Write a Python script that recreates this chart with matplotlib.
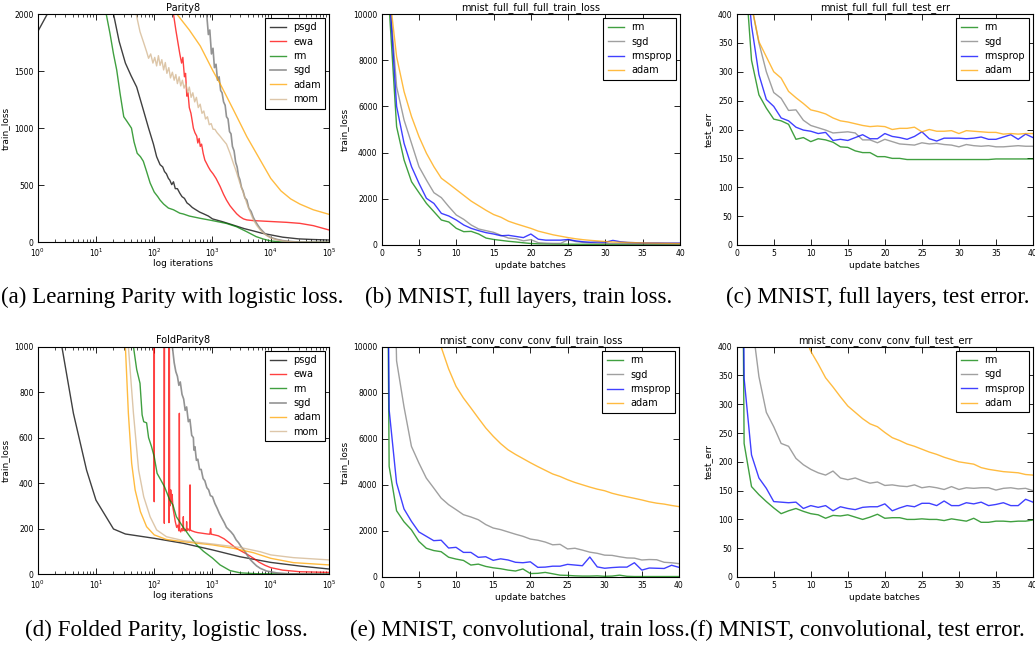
import numpy as np
import matplotlib
matplotlib.use('Agg')
import matplotlib.pyplot as plt

W, H = 1035, 645

# ---------------- (a) Parity8 : iteration -> train_loss ----------------
par_psgd_x = [1, 1.5, 2, 3, 5, 8, 12, 20, 25, 32, 40, 50, 65, 80, 97, 110, 126, 140, 150, 162,
              175, 185, 200, 214, 230, 250, 275, 300, 330, 365, 400, 450, 500, 600, 700, 850,
              1000, 1500, 2300, 3500, 5000, 7000, 10000, 16000, 30000, 50000, 100000]
par_psgd_y = [1845, 2010, 2200, 2500, 2700, 2600, 2350, 2000, 1760, 1570, 1460, 1360, 1160, 1000,
              860, 750, 680, 660, 620, 600, 560, 545, 505, 530, 470, 470, 430, 400, 385, 345, 330,
              305, 290, 265, 250, 230, 205, 180, 150, 120, 100, 80, 65, 45, 30, 25, 20]

par_ewa_x = [150, 214, 235, 257, 275, 295, 310, 330, 345, 363, 380, 400, 427, 450, 470, 500, 537,
             560, 590, 617, 650, 692, 740, 794, 850, 920, 1023, 1150, 1350, 1550, 1740, 2000, 2290,
             2600, 2950, 3400, 3890, 5000, 6600, 11000, 18600, 31600, 53700, 100000]
par_ewa_y = [2600, 2000, 1860, 1740, 1650, 1570, 1620, 1450, 1480, 1280, 1310, 1180, 1130, 1060,
             1000, 960, 930, 870, 910, 840, 860, 780, 720, 690, 660, 630, 600, 560, 490, 420, 370,
             320, 283, 250, 225, 205, 196, 190, 187, 181, 175, 166, 146, 108]

par_rm_x = [1, 5, 10, 15, 17.4, 20, 22.7, 26, 30, 34, 40.7, 45, 51, 58, 65, 74, 85, 100, 115, 126,
            145, 175, 214, 275, 316, 400, 617, 1000, 1740, 2570, 3800, 5600, 7500, 10000, 15000,
            20000, 100000]
par_rm_y = [5000, 3500, 2600, 2000, 1830, 1650, 1510, 1300, 1100, 1060, 1000, 880, 780, 750, 710,
            620, 520, 440, 400, 370, 335, 300, 285, 255, 248, 230, 210, 190, 165, 137, 95, 50, 28,
            12, 3, 0, 0]

par_sgd_x = [600, 700, 795, 850, 900, 960, 1020, 1080, 1150, 1220, 1300, 1380, 1460, 1550, 1650,
             1740, 1850, 1960, 2080, 2200, 2350, 2500, 2650, 2800, 2950, 3150, 3350, 3600, 3890,
             4200, 4600, 5000, 5500, 6000, 6600, 7500, 8500, 10000, 12600, 16000, 21000, 30000,
             100000]
par_sgd_y = [2500, 2250, 2000, 1820, 1860, 1650, 1700, 1530, 1560, 1420, 1450, 1330, 1310, 1230,
             1200, 1100, 1080, 970, 950, 840, 800, 700, 660, 580, 550, 480, 450, 390, 370, 300, 270,
             220, 180, 150, 120, 90, 62, 42, 26, 15, 8, 2, 0]

par_adam_x = [100, 244, 400, 617, 1023, 1350, 2290, 3890, 6610, 10000, 15000, 22000, 31600, 53700,
              100000]
par_adam_y = [2500, 2000, 1860, 1720, 1500, 1390, 1160, 925, 720, 560, 450, 380, 335, 285, 245]

par_mom_x = [30, 49, 57, 65, 74, 80, 87, 95, 102, 110, 118, 126, 135, 145, 155, 165, 178, 190, 205,
             220, 235, 250, 268, 285, 305, 325, 350, 375, 400, 430, 460, 495, 530, 570, 615, 660,
             710, 760, 820, 880, 950, 1023, 1100, 1200, 1350, 1500, 1740, 2000, 2290, 2600, 2950,
             3400, 3890, 4400, 5000, 5700, 6600, 7500, 8500, 10000, 12600, 16000, 21000, 30000,
             100000]
par_mom_y = [2500, 2000, 1845, 1758, 1670, 1612, 1650, 1570, 1620, 1545, 1635, 1550, 1600, 1510,
             1575, 1480, 1530, 1440, 1490, 1420, 1470, 1390, 1450, 1370, 1420, 1350, 1390, 1310,
             1360, 1270, 1310, 1230, 1270, 1180, 1210, 1130, 1150, 1080, 1100, 1030, 1040, 990,
             990, 960, 930, 900, 860, 780, 690, 610, 520, 430, 340, 270, 200, 150, 108, 80, 60, 38,
             22, 12, 6, 1, 0]

# ---------------- (d) FoldParity8 ----------------
fold_psgd_x = [1, 2, 2.6, 4.1, 6.9, 10, 20, 32, 100, 316, 1000, 2950, 10000, 31600, 100000]
fold_psgd_y = [1600, 1150, 1000, 707, 457, 325, 198, 176, 157, 135, 106, 76, 51, 35, 22]

fold_ewa_x = [90, 99, 100, 101, 147, 149, 151, 176, 179, 181, 184, 188, 192, 197, 203, 210, 220,
              230, 243, 255, 265, 268, 270, 273, 285, 296, 305, 314, 316, 318, 330, 345, 358, 360,
              362, 375, 390, 405, 410, 412, 414, 440, 500, 560, 640, 720, 820, 900, 930, 950, 1000,
              1260, 1580, 2000, 2500, 3160, 3980, 5000, 6300, 8000, 10000, 16000, 31600, 100000]
fold_ewa_y = [1500, 1500, 318, 1500, 1500, 223, 1500, 1500, 226, 1500, 380, 300, 370, 320, 350,
              290, 260, 230, 205, 215, 190, 195, 707, 195, 185, 200, 190, 200, 252, 195, 190, 195,
              200, 230, 190, 200, 195, 190, 200, 392, 195, 190, 185, 182, 180, 178, 176, 175, 200,
              175, 174, 168, 155, 135, 115, 100, 86, 70, 52, 38, 28, 17, 10, 7]

fold_rm_x = [20, 44, 50, 57, 62, 66, 74, 80, 90, 100, 112, 125, 150, 185, 210, 240, 310, 412, 536,
             700, 1000, 1350, 2000, 3000, 6000, 100000]
fold_rm_y = [1600, 1000, 900, 839, 700, 670, 665, 600, 560, 516, 443, 421, 384, 325, 303, 252, 208,
             164, 128, 100, 70, 40, 15, 5, 1, 0]

fold_sgd_x = [150, 205, 220, 235, 250, 265, 280, 300, 320, 340, 360, 385, 410, 440, 470, 480, 500,
              530, 560, 600, 640, 690, 740, 800, 860, 920, 1000, 1100, 1200, 1320, 1450, 1600,
              1740, 1900, 2080, 2290, 2550, 2800, 3100, 3400, 3700, 4000, 4500, 5000, 5700, 6600,
              8500, 12600, 20000, 100000]
fold_sgd_y = [1300, 1000, 930, 890, 870, 830, 845, 790, 770, 720, 735, 670, 680, 610, 600, 545, 560,
              500, 505, 460, 460, 420, 410, 380, 370, 345, 340, 310, 290, 265, 245, 225, 205, 195,
              185, 172, 150, 138, 120, 108, 95, 80, 62, 50, 36, 25, 13, 5, 1, 0]

fold_adam_x = [10, 20, 32, 36, 41, 47, 58, 74, 100, 162, 316, 1000, 2290, 5000, 10000, 24500, 100000]
fold_adam_y = [4000, 2000, 1000, 707, 487, 370, 274, 208, 172, 152, 142, 128, 113, 94, 69, 50, 40]

fold_mom_x = [10, 20, 36, 44, 54, 66, 85, 110, 162, 316, 1000, 2950, 6600, 10000, 24500, 100000]
fold_mom_y = [4000, 2200, 1000, 707, 457, 340, 252, 194, 164, 147, 132, 117, 98, 84, 72, 62]

# ---------------- MNIST runs : update batch 0..40 ----------------
batches = list(range(41))

full_train_rm = [50000, 10300, 5120, 3680, 2740, 2265, 1800, 1443, 1082, 996, 722, 577, 590, 476,
                 300, 240, 200, 160, 130, 95, 65, 50, 45, 40, 38, 35, 33, 30, 28, 27, 25, 24, 23,
                 22, 21, 20, 20, 19, 19, 18, 18]
full_train_sgd = [50000, 11000, 6850, 5410, 4400, 3390, 2810, 2265, 2050, 1660, 1300, 1110, 866,
                  693, 620, 548, 420, 300, 270, 180, 230, 100, 80, 70, 70, 230, 150, 110, 90, 80,
                  70, 65, 60, 55, 50, 50, 45, 45, 40, 40, 40]
full_train_rmsprop = [50000, 11000, 6000, 4400, 3390, 2670, 2020, 1800, 1370, 1255, 1082, 866, 720,
                      620, 534, 476, 400, 420, 370, 320, 476, 250, 210, 210, 210, 240, 180, 140,
                      120, 130, 120, 200, 140, 110, 100, 90, 90, 90, 85, 85, 85]
full_train_adam = [50000, 11000, 8150, 6640, 5560, 4690, 3970, 3390, 2890, 2650, 2400, 2150, 1900,
                   1700, 1500, 1320, 1200, 1030, 920, 820, 720, 600, 520, 440, 380, 320, 270, 230,
                   200, 175, 150, 130, 120, 110, 100, 90, 85, 80, 75, 70, 65]

full_test_rm = [2000, 500, 320, 260, 237, 218, 215, 209, 183, 186, 179, 184, 182, 178, 170, 169,
                163, 160, 160, 153, 153, 150, 150, 148, 148, 148, 148, 148, 148, 148, 148, 148,
                148, 148, 148, 149, 149, 149, 149, 149, 149]
full_test_sgd = [2000, 600, 415, 350, 300, 264, 254, 233, 234, 216, 207, 203, 199, 194, 195, 196,
                 194, 182, 182, 177, 183, 179, 175, 174, 173, 177, 175, 176, 174, 173, 170, 174,
                 172, 171, 172, 170, 170, 171, 172, 171, 171]
full_test_rmsprop = [2000, 520, 380, 295, 252, 240, 220, 215, 204, 199, 197, 193, 195, 181, 183,
                     181, 186, 191, 184, 184, 193, 188, 186, 183, 188, 196, 184, 180, 185, 185,
                     185, 184, 185, 187, 183, 183, 187, 191, 183, 192, 186]
full_test_adam = [2000, 600, 415, 352, 326, 300, 289, 266, 255, 245, 234, 231, 227, 220, 215, 213,
                  210, 207, 205, 206, 205, 200, 202, 202, 204, 196, 200, 197, 197, 198, 193, 198,
                  197, 196, 195, 195, 192, 193, 192, 193, 193]

conv_train_rm = [50000, 4810, 2880, 2400, 2050, 1550, 1250, 1150, 1100, 860, 780, 720, 520, 560,
                 460, 400, 360, 300, 260, 350, 150, 160, 200, 140, 80, 70, 50, 40, 40, 50, 30, 40,
                 80, 30, 20, 20, 20, 20, 20, 20, 20]
conv_train_sgd = [50000, 25000, 9400, 7400, 5680, 4960, 4300, 3870, 3430, 3145, 2930, 2710, 2610,
                  2490, 2280, 2130, 2060, 1960, 1860, 1770, 1650, 1600, 1520, 1400, 1420, 1220,
                  1250, 1170, 1080, 1030, 950, 940, 880, 830, 820, 740, 760, 750, 640, 620, 580]
conv_train_rmsprop = [50000, 7275, 4090, 2960, 2420, 1960, 1770, 1580, 1600, 1260, 1290, 1070,
                      1070, 855, 880, 725, 790, 740, 640, 620, 660, 420, 430, 470, 470, 550, 520,
                      490, 870, 440, 380, 410, 430, 430, 620, 300, 390, 380, 370, 510, 420]
conv_train_adam = [60000, 40000, 25000, 18000, 15000, 13000, 12000, 11100, 10000, 9050, 8290, 7780,
                   7350, 6910, 6480, 6120, 5800, 5530, 5330, 5150, 4970, 4800, 4640, 4480, 4370,
                   4230, 4110, 4010, 3910, 3820, 3750, 3640, 3560, 3490, 3420, 3350, 3270, 3210,
                   3170, 3110, 3060]

conv_test_rm = [2000, 232, 157, 143, 131, 120, 110, 115, 119, 114, 110, 108, 102, 107, 106, 108,
                104, 100, 104, 109, 102, 103, 103, 100, 100, 101, 100, 100, 98, 101, 99, 97, 102,
                95, 95, 97, 97, 96, 97, 97, 99]
conv_test_sgd = [2000, 700, 450, 348, 286, 261, 232, 227, 206, 195, 187, 181, 177, 184, 172, 169,
                 172, 167, 163, 165, 159, 160, 158, 157, 160, 155, 157, 155, 152, 157, 152, 155,
                 154, 155, 155, 151, 154, 155, 153, 154, 150]
conv_test_rmsprop = [2000, 345, 212, 172, 154, 131, 130, 129, 130, 119, 124, 121, 124, 115, 122,
                     119, 117, 121, 122, 122, 127, 115, 120, 124, 122, 128, 128, 124, 132, 124,
                     124, 129, 127, 130, 124, 126, 129, 124, 124, 135, 130]
conv_test_adam = [2000, 2000, 1400, 1050, 850, 700, 600, 520, 465, 425, 392, 370, 346, 330, 313,
                  297, 286, 275, 266, 261, 251, 242, 237, 231, 227, 222, 217, 213, 208, 204, 200,
                  198, 196, 190, 187, 185, 183, 182, 181, 178, 177]

captions = ['(a) Learning Parity with logistic loss.', '(b) MNIST, full layers, train loss.',
            '(c) MNIST, full layers, test error.', '(d) Folded Parity, logistic loss.',
            '(e) MNIST, convolutional, train loss.', '(f) MNIST, convolutional, test error.']


def box(l, t, r, b):
    # pixel box -> figure fraction
    return [l / W, 1 - b / H, (r - l) / W, (b - t) / H]


def style(ax, title, xlabel, ylabel, xpad=2):
    ax.set_title(title, fontsize=7, pad=2.5)
    ax.set_xlabel(xlabel, fontsize=6.5, labelpad=xpad)
    ax.set_ylabel(ylabel, fontsize=6.5, labelpad=3)
    ax.tick_params(which='both', direction='in', top=True, right=True, labelsize=5.5, pad=3)
    ax.tick_params(which='major', length=4, width=0.6)
    ax.tick_params(which='minor', length=2, width=0.5)
    for s in ax.spines.values():
        s.set_linewidth(0.8)
    leg = ax.legend(loc='upper right', fontsize=7, handlelength=1.7, handletextpad=0.7,
                    borderpad=0.45, labelspacing=0.45, borderaxespad=0.4, fancybox=False)
    leg.get_frame().set_edgecolor('black')
    leg.get_frame().set_linewidth(0.8)
    leg.get_frame().set_alpha(1)


fig = plt.figure(figsize=(10.35, 6.45), dpi=100)
lw, al = 1.0, 0.75

# (a)
ax = fig.add_axes(box(37.7, 14, 329, 242.3))
ax.plot(par_psgd_x, par_psgd_y, color='k', lw=lw, alpha=al, label='psgd')
ax.plot(par_ewa_x, par_ewa_y, color='r', lw=lw, alpha=al, label='ewa')
ax.plot(par_rm_x, par_rm_y, color='g', lw=lw, alpha=al, label='rm')
ax.plot(par_sgd_x, par_sgd_y, color='gray', lw=1.2, alpha=0.85, label='sgd')
ax.plot(par_adam_x, par_adam_y, color='orange', lw=lw, alpha=al, label='adam')
ax.plot(par_mom_x, par_mom_y, color='tan', lw=lw, alpha=al, label='mom')
ax.set_xscale('log')
ax.set_xlim(1, 1e5)
ax.set_ylim(0, 2000)
ax.set_yticks(range(0, 2001, 500))
style(ax, 'Parity8', 'log iterations', 'train_loss', xpad=0)

# (d)
ax = fig.add_axes(box(37.7, 346.7, 329, 574))
ax.plot(fold_psgd_x, fold_psgd_y, color='k', lw=lw, alpha=al, label='psgd')
ax.plot(fold_ewa_x, fold_ewa_y, color='r', lw=lw, alpha=al, label='ewa')
ax.plot(fold_rm_x, fold_rm_y, color='g', lw=lw, alpha=al, label='rm')
ax.plot(fold_sgd_x, fold_sgd_y, color='gray', lw=1.2, alpha=0.85, label='sgd')
ax.plot(fold_adam_x, fold_adam_y, color='orange', lw=lw, alpha=al, label='adam')
ax.plot(fold_mom_x, fold_mom_y, color='tan', lw=lw, alpha=al, label='mom')
ax.set_xscale('log')
ax.set_xlim(1, 1e5)
ax.set_ylim(0, 1000)
ax.set_yticks(range(0, 1001, 200))
style(ax, 'FoldParity8', 'log iterations', 'train_loss', xpad=0)

mnist = [
    (box(381.7, 14, 680, 245), 'mnist_full_full_full_train_loss', 'train_loss', 10000, 2000,
     [full_train_rm, full_train_sgd, full_train_rmsprop, full_train_adam]),
    (box(736.7, 14, 1033, 245), 'mnist_full_full_full_test_err', 'test_err', 400, 50,
     [full_test_rm, full_test_sgd, full_test_rmsprop, full_test_adam]),
    (box(381.7, 347, 679, 577), 'mnist_conv_conv_conv_full_train_loss', 'train_loss', 10000, 2000,
     [conv_train_rm, conv_train_sgd, conv_train_rmsprop, conv_train_adam]),
    (box(736.7, 346.7, 1033, 577), 'mnist_conv_conv_conv_full_test_err', 'test_err', 400, 50,
     [conv_test_rm, conv_test_sgd, conv_test_rmsprop, conv_test_adam]),
]
names = ['rm', 'sgd', 'rmsprop', 'adam']
colors = ['g', 'gray', 'b', 'orange']

for pos, title, ylab, ymax, ystep, series in mnist:
    ax = fig.add_axes(pos)
    for vals, name, c in zip(series, names, colors):
        ax.plot(batches, vals, color=c, lw=lw, alpha=al, label=name)
    ax.set_xlim(0, 40)
    ax.set_ylim(0, ymax)
    ax.set_xticks(range(0, 41, 5))
    ax.set_yticks(range(0, ymax + 1, ystep))
    style(ax, title, 'update batches', ylab)

# captions
cap_font = dict(family='Liberation Serif', fontsize=16.6, va='center')
fig.text(343 / W, 1 - 297 / H, captions[0], ha='right', **cap_font)
fig.text(365 / W, 1 - 297 / H, captions[1], ha='left', **cap_font)
fig.text(726 / W, 1 - 297 / H, captions[2], ha='left', **cap_font)
fig.text(25 / W, 1 - 630 / H, captions[3], ha='left', **cap_font)
fig.text(350 / W, 1 - 630 / H, captions[4], ha='left', **cap_font)
fig.text(690 / W, 1 - 630 / H, captions[5], ha='left', **cap_font)

fig.savefig('out.png', dpi=100)
